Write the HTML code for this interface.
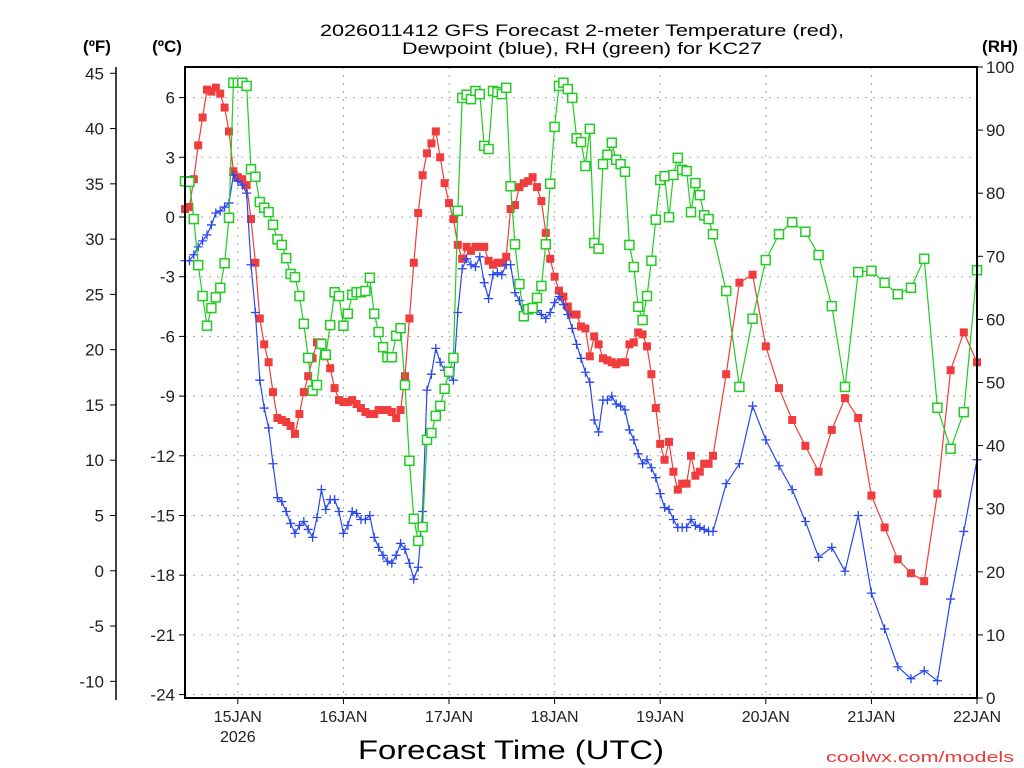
<!DOCTYPE html>
<html><head><meta charset="utf-8"><style>
html,body{margin:0;padding:0;background:#fff;}
svg{display:block;font-family:"Liberation Sans",sans-serif;}
</style></head><body>
<svg id="chart" width="1024" height="768" viewBox="0 0 1024 768" xmlns="http://www.w3.org/2000/svg">
<rect width="1024" height="768" fill="#fff"/>
<g id="grid"></g>
<g id="series"></g>
<g id="axes"></g>
<text x="582" y="36" font-size="17" text-anchor="middle" textLength="524" lengthAdjust="spacingAndGlyphs">2026011412 GFS Forecast 2-meter Temperature (red),</text>
<text x="582" y="54" font-size="17" text-anchor="middle" textLength="360" lengthAdjust="spacingAndGlyphs">Dewpoint (blue), RH (green) for KC27</text>
<text x="97" y="52" font-size="17" font-weight="bold" text-anchor="middle">(ºF)</text>
<text x="167" y="52" font-size="17" font-weight="bold" text-anchor="middle">(ºC)</text>
<text x="1000" y="52" font-size="17" font-weight="bold" text-anchor="middle">(RH)</text>
<text x="511" y="759" font-size="27" text-anchor="middle" textLength="306" lengthAdjust="spacingAndGlyphs">Forecast Time (UTC)</text>
<text x="1014" y="762" font-size="15" text-anchor="end" fill="#e83c3c" textLength="188" lengthAdjust="spacingAndGlyphs">coolwx.com/models</text>
</svg>
<script>
const hourlyCount = 121;
const threeHourlyStart = 123, threeHourlyEnd = 180;
const dayLabels = ["15JAN","16JAN","17JAN","18JAN","19JAN","20JAN","21JAN","22JAN"];
const dayHours = [12,36,60,84,108,132,156,180];
const celsiusTicks = [6,3,0,-3,-6,-9,-12,-15,-18,-21,-24];
const fahrenheitTicks = [45,40,35,30,25,20,15,10,5,0,-5,-10];
const rhTicks = [100,90,80,70,60,50,40,30,20,10,0];
const temperature = [0.4,0.5,1.9,3.6,5.0,6.4,6.3,6.5,6.2,5.5,
4.3,2.3,2.0,1.9,1.6,-0.1,-2.3,-5.1,-6.4,-7.3,
-8.8,-10.1,-10.2,-10.3,-10.5,-10.9,-9.9,-8.8,-8.0,-7.1,
-6.3,-6.3,-7.0,-7.6,-8.6,-9.2,-9.3,-9.3,-9.2,-9.4,
-9.6,-9.8,-9.9,-9.9,-9.7,-9.7,-9.7,-9.8,-10.1,-9.7,
-8.0,-5.1,-2.3,0.2,2.1,3.2,3.7,4.3,3.0,1.7,
0.7,-0.1,-1.4,-2.1,-1.5,-1.7,-1.5,-1.5,-1.5,-2.2,
-2.4,-2.3,-2.3,-2.0,0.4,0.6,1.5,1.7,1.8,2.0,
1.5,0.8,-0.8,-2.1,-3.0,-3.7,-4.0,-4.5,-4.9,-4.9,
-5.5,-5.6,-7.0,-6.0,-6.4,-7.1,-7.2,-7.3,-7.4,-7.3,
-7.3,-6.4,-6.3,-5.8,-5.9,-6.5,-7.9,-9.6,-11.4,-12.2,
-11.3,-12.8,-13.7,-13.4,-13.4,-12.0,-13.0,-12.8,-12.4,-12.4,
-12.0,
-7.9,-3.3,-2.9,-6.5,-8.6,-10.2,-11.5,-12.8,-10.7,-9.1,-10.1,-14.0,-15.6,-17.2,-17.9,-18.3,-13.9,-7.7,-5.8,-7.3];
const dewpoint = [-2.2,-2.2,-1.9,-1.5,-1.2,-0.9,-0.4,0.2,0.3,0.5,
0.7,2.1,1.8,1.6,1.2,-2.4,-4.8,-8.2,-9.6,-10.6,
-12.4,-14.1,-14.3,-14.8,-15.4,-15.9,-15.5,-15.3,-15.7,-16.1,
-15.1,-13.7,-14.7,-14.2,-14.2,-14.8,-15.9,-15.5,-14.8,-14.9,
-15.2,-15.2,-15.0,-16.1,-16.6,-17.0,-17.3,-17.4,-17.0,-16.4,
-16.7,-17.4,-18.2,-17.6,-14.8,-8.7,-7.9,-6.6,-7.3,-7.7,
-7.9,-8.2,-4.8,-2.6,-2.1,-2.4,-2.5,-2.0,-3.3,-4.1,
-2.9,-2.8,-2.9,-2.4,-2.4,-3.8,-4.2,-5.0,-4.7,-4.6,
-4.7,-4.9,-5.1,-4.8,-4.3,-4.0,-4.4,-4.9,-5.6,-6.4,
-7.1,-7.8,-8.3,-10.2,-10.8,-9.2,-9.2,-9.0,-9.4,-9.5,
-9.7,-10.7,-11.2,-11.9,-12.4,-12.2,-12.6,-13.1,-13.9,-14.6,
-14.7,-15.2,-15.6,-15.6,-15.6,-15.2,-15.5,-15.6,-15.7,-15.8,
-15.8,
-13.4,-12.4,-9.5,-11.2,-12.5,-13.7,-15.3,-17.1,-16.6,-17.8,-15.0,-18.9,-20.7,-22.6,-23.2,-22.8,-23.3,-19.2,-15.8,-12.2];
const humidity = [81.9,81.8,75.9,68.6,63.7,59.0,61.8,63.5,65.0,68.9,
76.1,97.5,97.5,97.5,97.0,83.8,82.6,78.6,77.7,77.0,
75.0,72.7,71.8,69.7,67.2,66.7,63.7,59.3,53.9,48.7,
49.6,56.1,54.4,59.1,64.3,63.7,59.0,60.9,63.9,64.3,
64.3,64.5,66.6,60.9,58.0,55.6,54.0,54.0,57.4,58.6,
49.6,37.6,28.4,24.9,27.1,40.9,42.0,44.7,46.3,49.0,
51.7,53.9,77.2,95.1,95.6,94.9,96.2,95.7,87.5,87.0,
96.2,96.0,95.7,96.7,81.1,71.9,65.6,60.5,61.6,61.8,
63.4,65.3,71.9,81.5,90.5,97.0,97.5,96.5,95.1,88.7,
88.1,84.3,90.2,72.1,71.2,84.6,86.1,88.0,85.3,84.6,
83.4,71.8,68.3,62.0,59.9,63.7,69.3,75.8,82.1,82.7,
76.2,82.9,85.6,83.7,83.5,77.0,81.6,79.7,76.5,75.9,
73.5,
64.5,49.3,60.1,69.4,73.5,75.4,73.9,70.2,62.1,49.3,67.5,67.7,65.8,64.0,65.0,69.6,46.0,39.5,45.3,67.8];

const hours = [];
for (let h = 0; h < hourlyCount; h++) hours.push(h);
for (let h = threeHourlyStart; h <= threeHourlyEnd; h += 3) hours.push(h);

const X0 = 185, X1 = 977, Y0 = 67, Y1 = 698;
const xS = h => X0 + h * (X1 - X0) / 180;
const yC = c => 217 - c * 19.9;
const yRH = r => Y1 - r * (Y1 - Y0) / 100;
const NS = "http://www.w3.org/2000/svg";
function mk(tag, attrs, parent) {
  const e = document.createElementNS(NS, tag);
  for (const k in attrs) e.setAttribute(k, attrs[k]);
  parent.appendChild(e);
  return e;
}
const grid = document.getElementById('grid');
const axes = document.getElementById('axes');
const series = document.getElementById('series');

celsiusTicks.forEach(c => {
  const y = yC(c);
  const g = mk('line', {x1: X0, x2: X1, y1: y, y2: y, stroke: '#aaa', 'stroke-width': 1, 'stroke-dasharray': '2,6'}, grid);
  
  
  mk('line', {x1: X0 - 6, x2: X0, y1: y, y2: y, stroke: '#000'}, axes);
  const t = mk('text', {x: X0 - 10, y: y + 6, 'font-size': 17, 'text-anchor': 'end', fill: '#222'}, axes);
  t.textContent = c;
  
  
});
dayHours.forEach((h, i) => {
  const x = xS(h);
  if (i < dayHours.length - 1) {
    const g = mk('line', {x1: x, x2: x, y1: Y0, y2: Y1, stroke: '#aaa', 'stroke-width': 1, 'stroke-dasharray': '2,6'}, grid);
    
    
  }
  mk('line', {x1: x, x2: x, y1: Y1, y2: Y1 + 6, stroke: '#000'}, axes);
  const t = mk('text', {x: Math.min(x, 1000), y: 722, 'font-size': 16, 'text-anchor': 'middle', fill: '#222'}, axes);
  t.textContent = dayLabels[i];
  
  
});
const yr = mk('text', {x: xS(12), y: 742, 'font-size': 16, 'text-anchor': 'middle', fill: '#222'}, axes);
yr.textContent = '2026';



fahrenheitTicks.forEach(f => {
  const y = yC((f - 32) / 1.8);
  mk('line', {x1: 110, x2: 116, y1: y, y2: y, stroke: '#000'}, axes);
  const t = mk('text', {x: 104, y: y + 6, 'font-size': 17, 'text-anchor': 'end', fill: '#222'}, axes);
  t.textContent = f;
  
  
});
rhTicks.forEach(r => {
  const y = yRH(r);
  mk('line', {x1: X1, x2: X1 + 6, y1: y, y2: y, stroke: '#000'}, axes);
  const t = mk('text', {x: 986, y: y + 6, 'font-size': 17, 'text-anchor': 'start', fill: '#222'}, axes);
  t.textContent = r;
  
  
});
const fAxis = mk('line', {x1: 116, x2: 116, y1: 67, y2: 700, stroke: '#000', 'stroke-width': 1.5}, axes);


const frame = mk('rect', {x: X0, y: Y0, width: X1 - X0, height: Y1 - Y0, fill: 'none', stroke: '#000', 'stroke-width': 2}, axes);



function drawSeries(vals, yf, color, marker, name) {
  const g = mk('g', {}, series);
  
  
  const pts = vals.map((v, i) => xS(hours[i]).toFixed(1) + ',' + yf(v).toFixed(1)).join(' ');
  const pl = mk('polyline', {points: pts, fill: 'none', stroke: color, 'stroke-width': 1.2}, g);
  
  
  vals.forEach((v, i) => {
    const x = xS(hours[i]), y = yf(v);
    let m;
    if (marker === 'filled') {
      m = mk('rect', {x: x - 4, y: y - 4, width: 8, height: 8, fill: color}, g);
    } else if (marker === 'hollow') {
      m = mk('rect', {x: x - 4.5, y: y - 4.5, width: 9, height: 9, fill: '#fff', stroke: color, 'stroke-width': 1.5}, g);
    } else {
      m = mk('path', {d: `M${x-4.5},${y}H${x+4.5}M${x},${y-4.5}V${y+4.5}`, stroke: color, 'stroke-width': 1.3, fill: 'none'}, g);
    }
    
    
  });
}
drawSeries(temperature, yC, '#f03c3c', 'filled', 'temperature');
drawSeries(dewpoint, yC, '#2a48f0', 'plus', 'dewpoint');
drawSeries(humidity, yRH, '#22cc22', 'hollow', 'humidity');
</script>
</body></html>
